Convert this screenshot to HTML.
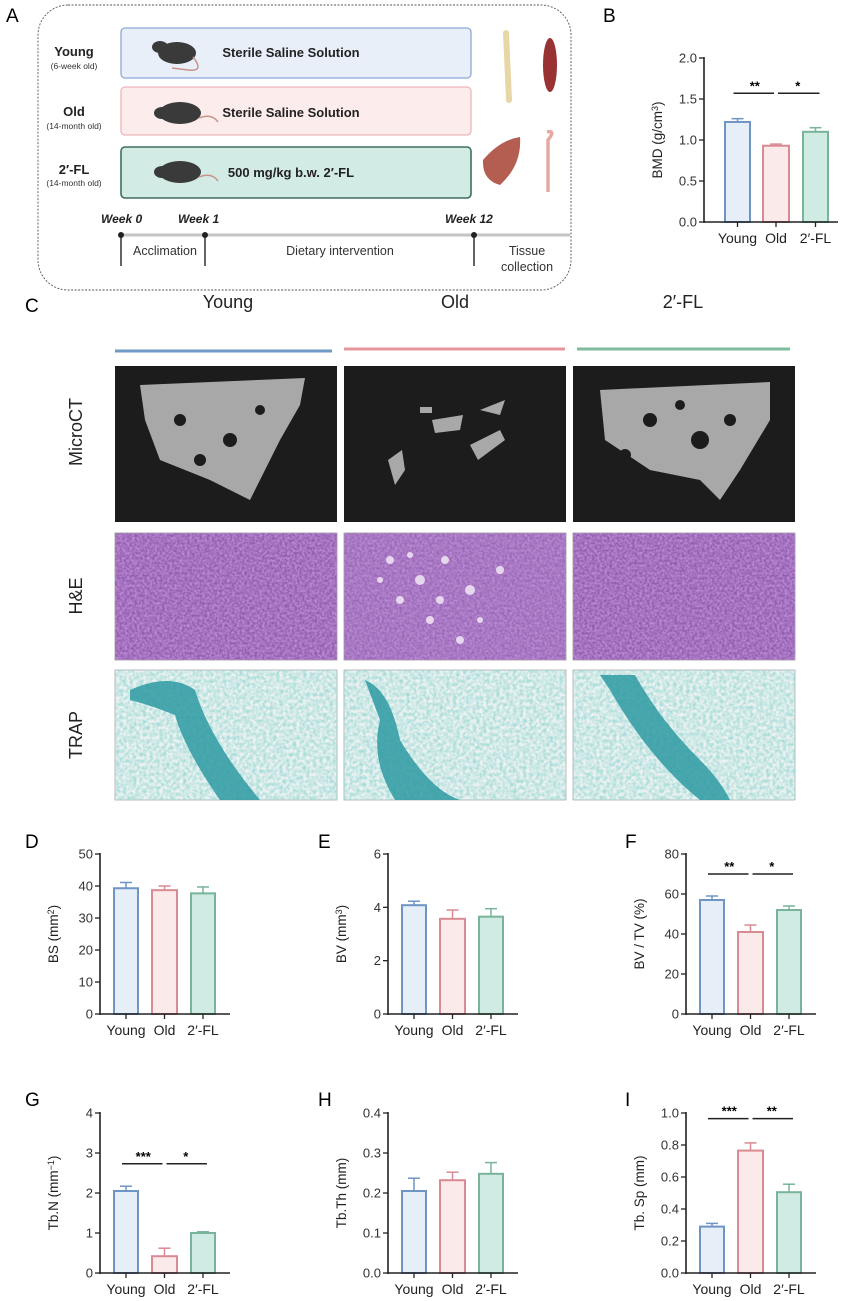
<!DOCTYPE html>
<html><head><meta charset="utf-8">
<style>
html,body{margin:0;padding:0;background:#fff;}
svg{display:block;font-family:"Liberation Sans",Arial,sans-serif;}
</style></head>
<body>
<svg id="s" width="845" height="1301" viewBox="0 0 845 1301" xmlns="http://www.w3.org/2000/svg">
<defs>
<filter id="he" x="0" y="0" width="100%" height="100%">
<feTurbulence type="fractalNoise" baseFrequency="0.4" numOctaves="2" seed="3"/>
<feColorMatrix values="0 0 0 0 0.50  0 0 0 0 0.25  0 0 0 0 0.65  0 0 0 -2 1.5"/>
</filter>
<filter id="tr" x="0" y="0" width="100%" height="100%">
<feTurbulence type="fractalNoise" baseFrequency="0.3" numOctaves="2" seed="7"/>
<feColorMatrix values="0 0 0 0 0.35  0 0 0 0 0.70  0 0 0 0 0.68  0 0 0 -1.8 1.3"/>
</filter>
</defs>
<text x="6" y="22" font-size="19">A</text>
<rect x="38" y="5" width="533" height="285" rx="30" fill="none" stroke="#555" stroke-dasharray="2,1.5" stroke-width="0.9"/>
<rect x="121" y="28" width="350" height="50" rx="4" fill="#e8eff9" stroke="#8ea8d6" stroke-width="1.3"/>
<rect x="121" y="87" width="350" height="48" rx="4" fill="#fcecec" stroke="#ecb6b9" stroke-width="1.3"/>
<rect x="121" y="147" width="350" height="51" rx="4" fill="#d3ebe5" stroke="#3f6e5e" stroke-width="1.6"/>
<g font-weight="bold" font-size="13" text-anchor="middle" fill="#222">
<text x="74" y="56">Young</text><text x="74" y="116">Old</text><text x="74" y="174">2′-FL</text>
<text x="291" y="57">Sterile Saline Solution</text><text x="291" y="117">Sterile Saline Solution</text><text x="291" y="177">500 mg/kg b.w. 2′-FL</text>
</g>
<g font-size="8.5" text-anchor="middle" fill="#333">
<text x="74" y="69">(6-week old)</text><text x="74" y="129">(14-month old)</text><text x="74" y="186">(14-month old)</text>
</g>
<g fill="#3a3a3a">
<ellipse cx="177" cy="53" rx="19" ry="11"/><ellipse cx="160" cy="47" rx="8" ry="6"/>
<ellipse cx="180" cy="113" rx="21" ry="11"/><ellipse cx="162" cy="113" rx="8" ry="6"/>
<ellipse cx="180" cy="172" rx="21" ry="11"/><ellipse cx="162" cy="172" rx="8" ry="6"/>
</g>
<g fill="none" stroke="#c8928a" stroke-width="1.5">
<path d="M193 57 Q205 72 188 70 L172 68"/><path d="M199 118 Q212 113 218 122"/><path d="M199 177 Q212 172 218 181"/>
</g>
<path d="M506 33 L509 100" stroke="#e8d6a6" stroke-width="6" stroke-linecap="round"/>
<ellipse cx="550" cy="65" rx="7" ry="27" fill="#993333"/>
<path d="M483 160 Q500 140 520 137 Q522 165 500 185 Q482 180 483 160Z" fill="#b45e52"/>
<path d="M547 132 Q556 130 548 140 L548 192" stroke="#e6a8a0" stroke-width="3.5" fill="none"/>
<line x1="121" y1="235" x2="570" y2="235" stroke="#c4c4c4" stroke-width="3"/>
<g stroke="#222" stroke-width="1.4"><line x1="121" y1="235" x2="121" y2="266"/><line x1="205" y1="235" x2="205" y2="266"/><line x1="474" y1="235" x2="474" y2="266"/></g>
<g fill="#222"><circle cx="121" cy="235" r="3"/><circle cx="205" cy="235" r="3"/><circle cx="474" cy="235" r="3"/></g>
<g font-size="12" font-style="italic" fill="#222" font-weight="bold"><text x="101" y="223">Week 0</text><text x="178" y="223">Week 1</text><text x="445" y="223">Week 12</text></g>
<g font-size="12.5" fill="#333" text-anchor="middle"><text x="165" y="255">Acclimation</text><text x="340" y="255">Dietary intervention</text><text x="527" y="255">Tissue</text><text x="527" y="271">collection</text></g>

<text x="25" y="312" font-size="19">C</text>
<g font-size="18" text-anchor="middle" fill="#222"><text x="228" y="308">Young</text><text x="455" y="308">Old</text><text x="683" y="308">2′-FL</text></g>
<line x1="115" y1="351" x2="332" y2="351" stroke="#6f9ac6" stroke-width="3"/>
<line x1="344" y1="349" x2="565" y2="349" stroke="#e3979c" stroke-width="3"/>
<line x1="577" y1="349" x2="790" y2="349" stroke="#7fbb9e" stroke-width="3"/>
<g font-size="18" text-anchor="middle" fill="#222">
<text transform="translate(82 432) rotate(-90)">MicroCT</text>
<text transform="translate(82 596) rotate(-90)">H&amp;E</text>
<text transform="translate(82 735) rotate(-90)">TRAP</text>
</g>
<g fill="#1c1c1c"><rect x="115" y="366" width="222" height="156"/><rect x="344" y="366" width="222" height="156"/><rect x="573" y="366" width="222" height="156"/></g>
<g fill="#a8a8a8">
<path d="M140 385 L305 378 L300 405 L280 440 L250 500 L210 480 L160 460 L145 420Z"/>
<rect x="420" y="407" width="12" height="6"/><path d="M432 420 L463 415 L460 430 L435 433Z"/><path d="M480 410 L505 400 L500 415Z"/><path d="M470 445 L500 430 L505 440 L478 460Z"/><path d="M388 460 L402 450 L405 470 L395 485Z"/>
<path d="M600 390 L770 382 L770 420 L740 470 L720 500 L700 480 L650 470 L605 440Z"/>
</g>
<g fill="#1c1c1c"><circle cx="180" cy="420" r="6"/><circle cx="230" cy="440" r="7"/><circle cx="260" cy="410" r="5"/><circle cx="200" cy="460" r="6"/><circle cx="650" cy="420" r="7"/><circle cx="700" cy="440" r="9"/><circle cx="680" cy="405" r="5"/><circle cx="730" cy="420" r="6"/><circle cx="625" cy="455" r="6"/></g>
<g stroke="#999" stroke-width="0.8">
<rect x="115" y="533" width="222" height="127" fill="#8e5cae"/><rect x="344" y="533" width="222" height="127" fill="#9668b6"/><rect x="573" y="533" width="222" height="127" fill="#8e5cae"/>
</g>
<rect x="115" y="533" width="222" height="127" filter="url(#he)"/>
<rect x="344" y="533" width="222" height="127" filter="url(#he)"/>
<rect x="573" y="533" width="222" height="127" filter="url(#he)"/>
<g fill="#f1e8f4" opacity="0.85"><circle cx="390" cy="560" r="4"/><circle cx="420" cy="580" r="5"/><circle cx="445" cy="560" r="4"/><circle cx="470" cy="590" r="5"/><circle cx="400" cy="600" r="4"/><circle cx="430" cy="620" r="4"/><circle cx="500" cy="570" r="4"/><circle cx="460" cy="640" r="4"/><circle cx="380" cy="580" r="3"/><circle cx="410" cy="555" r="3"/><circle cx="440" cy="600" r="4"/><circle cx="480" cy="620" r="3"/></g>
<g stroke="#aaa" stroke-width="0.8">
<rect x="115" y="670" width="222" height="130" fill="#eef3f2"/><rect x="344" y="670" width="222" height="130" fill="#eef3f2"/><rect x="573" y="670" width="222" height="130" fill="#eef3f2"/>
</g>
<rect x="115" y="670" width="222" height="130" filter="url(#tr)"/>
<rect x="344" y="670" width="222" height="130" filter="url(#tr)"/>
<rect x="573" y="670" width="222" height="130" filter="url(#tr)"/>
<g fill="#2e9aa2" opacity="0.85">
<path d="M130 690 Q170 672 195 690 Q210 740 260 800 L220 800 Q185 750 175 715 Q150 705 130 700Z"/>
<path d="M365 680 Q390 690 400 740 Q430 790 460 800 L395 800 Q370 760 380 720Z"/>
<path d="M600 675 L635 675 Q660 720 700 760 Q720 780 730 800 L700 800 Q650 760 610 690Z"/>
</g>

<g font-size="19"><text x="603" y="22">B</text><text x="25" y="848">D</text><text x="318" y="848">E</text><text x="625" y="848">F</text><text x="25" y="1106">G</text><text x="318" y="1106">H</text><text x="625" y="1106">I</text></g>
<g id="charts"></g>
</svg>
<script>
var g=document.getElementById("charts"),h="";
var cols=[["#6f95c5","#e6eef8"],["#d98a92","#fbeaea"],["#78b39a","#d0ebe4"]];
function chart(ax,y0,top,max,step,dec,vals,errs,lab,sig,sigv,wide){
 var sc=(y0-top)/max,Y=function(v){return y0-v*sc;};
 var off=wide?[[21,46],[59,85],[99,124]]:[[14,38],[52,77],[91,115]],end=wide?134:130;
 var s="";
 for(var i=0;i<3;i++){var x1=ax+off[i][0],x2=ax+off[i][1],cx=(x1+x2)/2,yt=Y(vals[i]),ye=Y(vals[i]+errs[i]);
  s+='<line x1="'+cx+'" y1="'+yt+'" x2="'+cx+'" y2="'+ye+'" stroke="'+cols[i][0]+'" stroke-width="1.5"/>';
  s+='<line x1="'+(cx-6)+'" y1="'+ye+'" x2="'+(cx+6)+'" y2="'+ye+'" stroke="'+cols[i][0]+'" stroke-width="1.5"/>';
  s+='<rect x="'+x1+'" y="'+yt+'" width="'+(x2-x1)+'" height="'+(y0-yt)+'" fill="'+cols[i][1]+'" stroke="'+cols[i][0]+'" stroke-width="2"/>';
  s+='<line x1="'+cx+'" y1="'+y0+'" x2="'+cx+'" y2="'+(y0+5)+'" stroke="#222" stroke-width="1.3"/>';
 }
 s+='<line x1="'+ax+'" y1="'+(top-1)+'" x2="'+ax+'" y2="'+(y0+1)+'" stroke="#222" stroke-width="1.6"/>';
 s+='<line x1="'+ax+'" y1="'+y0+'" x2="'+(ax+end)+'" y2="'+y0+'" stroke="#222" stroke-width="1.6"/>';
 for(var v=0;v<=max+1e-9;v+=step){var y=Y(v);
  s+='<line x1="'+(ax-5)+'" y1="'+y+'" x2="'+ax+'" y2="'+y+'" stroke="#222" stroke-width="1.3"/>';
  s+='<text x="'+(ax-7)+'" y="'+(y+4.5)+'" font-size="13" text-anchor="end" fill="#333">'+v.toFixed(dec)+'</text>';}
 var names=["Young","Old","2′-FL"];
 for(var i=0;i<3;i++){var cx=ax+(off[i][0]+off[i][1])/2;s+='<text x="'+cx+'" y="'+(y0+21)+'" font-size="14" text-anchor="middle" fill="#222">'+names[i]+'</text>';}
 s+='<text transform="translate('+(ax-42)+' '+((y0+top)/2)+') rotate(-90)" font-size="13.5" text-anchor="middle" fill="#222">'+lab+'</text>';
 if(sig){var ys=Y(sigv);
  var c=[(off[0][0]+off[0][1])/2+ax-4,(off[1][0]+off[1][1])/2+ax,(off[2][0]+off[2][1])/2+ax+4];
  s+='<line x1="'+c[0]+'" y1="'+ys+'" x2="'+(c[1]-2)+'" y2="'+ys+'" stroke="#222" stroke-width="1.5"/>';
  s+='<line x1="'+(c[1]+2)+'" y1="'+ys+'" x2="'+c[2]+'" y2="'+ys+'" stroke="#222" stroke-width="1.5"/>';
  s+='<text x="'+((c[0]+c[1])/2)+'" y="'+(ys-3)+'" font-size="13" font-weight="bold" text-anchor="middle">'+sig[0]+'</text>';
  s+='<text x="'+((c[1]+c[2])/2)+'" y="'+(ys-3)+'" font-size="13" font-weight="bold" text-anchor="middle">'+sig[1]+'</text>';}
 h+=s;
}
chart(704,222,58,2,0.5,1,[1.22,0.93,1.10],[0.04,0.02,0.05],'BMD (g/cm<tspan dy="-4" font-size="9">3</tspan><tspan dy="4">)</tspan>',["**","*"],1.57,true);
chart(100,1014,854,50,10,0,[39.3,38.7,37.7],[1.8,1.3,2.0],'BS (mm<tspan dy="-4" font-size="9">2</tspan><tspan dy="4">)</tspan>',null);
chart(388,1014,854,6,2,0,[4.08,3.57,3.65],[0.15,0.33,0.3],'BV (mm<tspan dy="-4" font-size="9">3</tspan><tspan dy="4">)</tspan>',null);
chart(686,1014,854,80,20,0,[57,41,52],[2,3.5,2],'BV / TV (%)',["**","*"],70);
chart(100,1273,1113,4,1,0,[2.05,0.42,1.0],[0.12,0.2,0.03],'Tb.N (mm<tspan dy="-4" font-size="9">−1</tspan><tspan dy="4">)</tspan>',["***","*"],2.73);
chart(388,1273,1113,0.4,0.1,1,[0.205,0.232,0.248],[0.032,0.02,0.028],'Tb.Th (mm)',null);
chart(686,1273,1113,1.0,0.2,1,[0.29,0.765,0.505],[0.02,0.048,0.05],'Tb. Sp (mm)',["***","**"],0.965);
g.innerHTML=h;
</script>
</body></html>
